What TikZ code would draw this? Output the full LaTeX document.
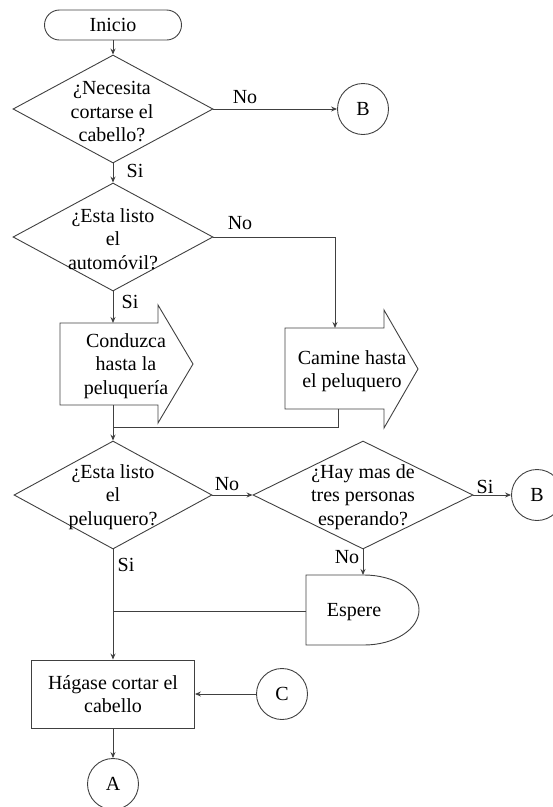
\documentclass[tikz,border=0pt]{standalone}
\usepackage{fontspec}
\setmainfont{Liberation Serif}
\usetikzlibrary{shapes.geometric,arrows.meta}
\begin{document}
\begin{tikzpicture}[x=1pt,y=-1pt,line width=0.9pt,
  every node/.style={font=\fontsize{20}{23.5}\selectfont,text=black},
  ln/.style={draw=black!75},
  arr/.style={ln,-{Stealth[length=6pt,width=5pt,inset=2pt]}},
  term/.style={draw=black!75,rounded corners=15pt,minimum width=137pt,minimum height=30pt,inner sep=0pt},
  dia/.style={draw=black!75,diamond,minimum width=#1,minimum height=108pt,inner sep=0pt},
  conn/.style={draw=black!75,circle,minimum size=51pt,inner sep=0pt},
  proc/.style={draw=black!75,rectangle,minimum width=163pt,minimum height=68pt,inner sep=0pt,align=center},
  shp/.style={draw=black!75,line join=miter},
  txt/.style={align=center,inner sep=0pt},
  lab/.style={inner sep=0pt}]
\useasboundingbox (0,0) rectangle (553,807);

% nodes
\node[term] (ini) at (113,25) {Inicio};
\node[dia=200pt] (d1) at (113,109) {};
\node[txt] (d1t) at (112,112) {¿Necesita\\cortarse el\\cabello?};
\node[conn] (b1) at (363,109) {B};
\node[dia=200pt] (d2) at (113,237) {};
\node[txt] (d2t) at (113,239) {¿Esta listo\\el\\automóvil?};

% Conduzca arrow shape
\draw[shp] (60,323) -- (158,323) -- (158,305) -- (193,364) -- (158,423) -- (158,405) -- (60,405) -- cycle;
\node[txt] (cond) at (126,366) {Conduzca\\hasta la\\peluquería};
\coordinate (condtop) at (113,323);
\coordinate (condbot) at (113,405);

% Camine arrow shape
\draw[shp] (285,328) -- (384,328) -- (384,310) -- (418,369) -- (384,428) -- (384,409) -- (285,409) -- cycle;
\node[txt] (cam) at (352,371) {Camine hasta\\el peluquero};
\coordinate (camtop) at (335,328);
\coordinate (cambot) at (338,409);
\coordinate (merge) at (113,427);

\node[dia=198pt] (d3) at (113,495) {};
\node[txt] (d3t) at (113,497) {¿Esta listo\\el\\peluquero?};
\node[dia=220pt] (d4) at (363,495) {};
\node[txt] (d4t) at (363,497) {¿Hay mas de\\tres personas\\esperando?};
\node[conn] (b2) at (537,495) {B};

% Espere delay shape
\draw[shp] (306,575) -- (364,575) arc[start angle=-90,end angle=90,x radius=55,y radius=35] -- (306,645) -- cycle;
\node[txt] (esp) at (354,612) {Espere};
\coordinate (espN) at (363,575);
\coordinate (espW) at (306,611);
\coordinate (join) at (113,611);

\node[proc] (hag) at (113,694) {Hágase cortar el\\cabello};
\node[conn] (c) at (282,694) {C};
\node[conn] (a) at (113,784) {A};

% connectors
\draw[arr] (ini) -- (d1.north);
\draw[arr] (d1.east) -- (b1);
\draw[arr] (d1.south) -- (d2.north);
\draw[arr] (d2.east) -| (camtop);
\draw[arr] (d2.south) -- (condtop);
\draw[arr] (condbot) -- (d3.north);
\draw[ln] (cambot) |- (merge);
\draw[arr] (d3.east) -- (d4.west);
\draw[arr] (d4.east) -- (b2);
\draw[arr] (d4.south) -- (espN);
\draw[arr] (d3.south) -- (hag.north);
\draw[ln] (espW) -- (join);
\draw[arr] (c) -- (hag.east);
\draw[arr] (hag.south) -- (a);

% labels
\node[lab] at (245,97) {No};
\node[lab] at (135,171) {Si};
\node[lab] at (240,223) {No};
\node[lab] at (130,302) {Si};
\node[lab] at (227,484) {No};
\node[lab] at (485,487) {Si};
\node[lab] at (347,557) {No};
\node[lab] at (126,565) {Si};
\end{tikzpicture}
\end{document}
